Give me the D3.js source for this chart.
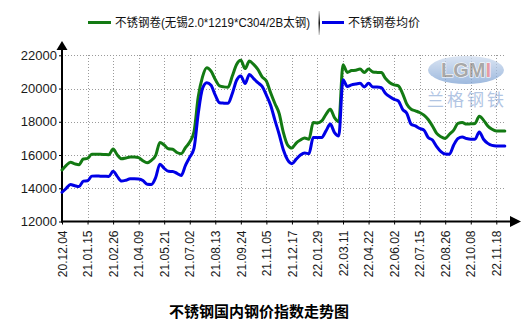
<!DOCTYPE html>
<html>
<head>
<meta charset="utf-8">
<script src="https://cdn.jsdelivr.net/npm/d3@7"></script>
<style>
  html, body { margin: 0; padding: 0; background: #fff; }
  svg { display: block; }
  text { font-family: "Liberation Sans", Arial, "Noto Sans CJK SC", sans-serif; }
  .cjk { font-family: "Noto Sans CJK SC", "Liberation Sans", sans-serif; }
</style>
</head>
<body>
<svg id="chart" width="524" height="328"></svg>
<script>
// Weekly tick labels (one label every 6 weekly observations)
const tickLabels = ["20.12.04","21.01.15","21.02.26","21.04.09","21.05.21","21.07.02",
  "21.08.13","21.09.24","21.11.05","21.12.17","22.01.29","22.03.11",
  "22.04.22","22.06.02","22.07.15","22.08.26","22.10.08","22.11.18"];
const tickStep = 6;

const yTicks = [12000, 14000, 16000, 18000, 20000, 22000];

const seriesNames = ["不锈钢卷(无锡2.0*1219*C304/2B太钢)", "不锈钢卷均价"];

// 不锈钢卷(无锡2.0*1219*C304/2B太钢), weekly, 元/吨
const wuxiPrice = [
  15100,15380,15560,15470,15420,15760,15800,16040,16040,16040,
  16030,16020,16360,16000,15770,15820,15880,15880,15840,15650,
  15530,15680,15980,16750,16600,16380,16350,16150,16080,16450,
  16780,17400,19500,20700,21250,21050,20550,20160,20100,20080,
  20750,21450,21700,21200,21650,21450,21150,20700,20450,19750,
  19100,18500,17350,16600,16420,16720,16900,17030,16950,17950,
  17930,18050,18450,18750,18250,18000,21430,20970,21080,21100,
  21170,20970,21170,21000,20970,20960,20600,20350,20220,20160,
  19700,19050,18750,18660,18560,18400,18140,17750,17300,17100,
  17000,17250,17500,17900,17950,17860,17880,17900,18340,18100,
  17750,17550,17450,17450,17450
];

// 不锈钢卷均价, weekly, 元/吨
const avgPrice = [
  13760,14000,14220,14150,14100,14430,14450,14730,14740,14730,
  14720,14710,15020,14700,14430,14480,14570,14570,14560,14470,
  14240,14230,14650,15450,15200,15020,15010,14900,14770,15380,
  15870,16400,18500,20000,20350,20200,19600,19150,19120,19110,
  19700,20500,20760,20300,20850,20600,20350,20130,19600,19000,
  18100,17250,16300,15700,15480,15750,16000,16120,16080,17050,
  17050,17060,17450,17860,17350,17150,20530,20120,20220,20270,
  20320,20100,20320,20100,20100,20050,19700,19500,19350,19250,
  18750,18500,17850,17750,17600,17500,17050,16900,16500,16200,
  16060,16050,16600,17000,17080,16990,16950,16950,17390,16950,
  16700,16580,16550,16550,16550
];

const seriesColors = ["#137a13", "#0000e6"];

const svg = d3.select("#chart");

const x0 = 62, xLastTick = 496.3, gridRight = 505, axisRight = 510;
const x = d3.scaleLinear()
  .domain([0, (tickLabels.length - 1) * tickStep])
  .range([x0, xLastTick]);
const y = d3.scaleLinear().domain([12000, 22000]).range([221.5, 55.3]);

// ---- grid ----
const grid = svg.append("g").attr("stroke", "#9a9a9a").attr("stroke-width", 1)
  .attr("stroke-dasharray", "1,2").attr("shape-rendering", "crispEdges");
grid.selectAll("line.h").data(yTicks.slice(1)).join("line")
  .attr("x1", x0).attr("x2", gridRight)
  .attr("y1", d => Math.round(y(d)) + 0.5).attr("y2", d => Math.round(y(d)) + 0.5);
const tickIdx = tickLabels.map((_, i) => i * tickStep);
grid.selectAll("line.v").data(tickIdx.slice(1)).join("line")
  .attr("x1", d => Math.round(x(d)) + 0.5).attr("x2", d => Math.round(x(d)) + 0.5)
  .attr("y1", y(22000)).attr("y2", y(12000));

// ---- y axis ----
const yAxis = svg.append("g").attr("transform", `translate(${x0},0)`)
  .call(d3.axisLeft(y).tickValues(yTicks).tickSize(3).tickPadding(2).tickFormat(d3.format("d")));
yAxis.select(".domain").remove();
yAxis.selectAll(".tick line").attr("stroke", "#000");
yAxis.selectAll(".tick text").attr("font-size", 13).attr("fill", "#1a1a1a")
  .attr("font-family", "'Liberation Sans', Arial, sans-serif");

// ---- x axis ----
const xAxis = svg.append("g").attr("transform", `translate(0,${y(12000)})`)
  .call(d3.axisBottom(x).tickValues(tickIdx).tickSize(3)
    .tickFormat((d, i) => tickLabels[i]));
xAxis.select(".domain").remove();
xAxis.selectAll(".tick line").attr("stroke", "#000");
xAxis.selectAll(".tick text")
  .attr("font-size", 12).attr("fill", "#1a1a1a")
  .attr("font-family", "'Liberation Sans', Arial, sans-serif")
  .attr("text-anchor", "end")
  .attr("transform", "rotate(-90)")
  .attr("x", -9).attr("y", 0).attr("dy", "0.35em");

// axis lines with arrow heads
svg.append("line").attr("x1", x0).attr("x2", x0).attr("y1", 49).attr("y2", y(12000) + 1)
  .attr("stroke", "#000").attr("stroke-width", 2);
svg.append("line").attr("x1", x0 - 1).attr("x2", axisRight).attr("y1", y(12000)).attr("y2", y(12000))
  .attr("stroke", "#000").attr("stroke-width", 2);
svg.append("path").attr("d", `M${x0 - 5.5},50 L${x0 + 5.5},50 L${x0},41 Z`).attr("fill", "#000");
svg.append("path").attr("d", `M${axisRight},${y(12000) - 5.5} L${axisRight},${y(12000) + 5.5} L${axisRight + 11},${y(12000)} Z`).attr("fill", "#000");

// ---- watermark ----
const wm = svg.append("g").attr("opacity", 0.75);
const defs = svg.append("defs");
const eg = defs.append("linearGradient").attr("id", "ell").attr("x1", 0).attr("y1", 0).attr("x2", 0).attr("y2", 1);
eg.append("stop").attr("offset", "0%").attr("stop-color", "#cfdcef");
eg.append("stop").attr("offset", "100%").attr("stop-color", "#7ea3d4");
wm.append("ellipse").attr("cx", 466).attr("cy", 70).attr("rx", 38).attr("ry", 14)
  .attr("fill", "url(#ell)");
const logo = wm.append("text").attr("x", 466).attr("y", 77).attr("text-anchor", "middle")
  .attr("font-size", 20).attr("font-weight", "bold")
  .attr("font-family", "'Liberation Sans', Arial, sans-serif")
  .attr("stroke", "#ffffff").attr("stroke-width", 1.2).attr("paint-order", "stroke");
logo.append("tspan").attr("fill", "#8c8c8c").text("LGM");
logo.append("tspan").attr("fill", "#e07a86").text("I");
wm.append("text").attr("class", "cjk").attr("x", 467).attr("y", 106).attr("text-anchor", "middle")
  .attr("font-size", 17).attr("letter-spacing", 3).attr("fill", "#98b2da").text("兰格钢铁");

// ---- series lines ----
const line = d3.line().x((d, i) => x(i)).y(d => y(d)).curve(d3.curveMonotoneX);
[wuxiPrice, avgPrice].forEach((data, k) => {
  svg.append("path").datum(data)
    .attr("fill", "none").attr("stroke", seriesColors[k]).attr("stroke-width", 3)
    .attr("stroke-linejoin", "round").attr("stroke-linecap", "round")
    .attr("d", line);
});

// ---- legend ----
const legend = svg.append("g");
const legendItems = [{ x1: 88, x2: 111, tx: 115, w: 195 }, { x1: 322, x2: 344, tx: 348, w: 72 }];
legendItems.forEach((it, k) => {
  legend.append("line").attr("x1", it.x1).attr("x2", it.x2).attr("y1", 22.5).attr("y2", 22.5)
    .attr("stroke", seriesColors[k]).attr("stroke-width", 3);
  legend.append("text").attr("x", it.tx).attr("y", 27)
    .attr("font-size", 12).attr("fill", "#111")
    .attr("textLength", it.w).attr("lengthAdjust", "spacingAndGlyphs")
    .text(seriesNames[k]);
});
const sg = defs.append("linearGradient").attr("id", "sep").attr("x1", 0).attr("y1", 0).attr("x2", 0).attr("y2", 1);
sg.append("stop").attr("offset", "0%").attr("stop-color", "#dddddd");
sg.append("stop").attr("offset", "50%").attr("stop-color", "#111111");
sg.append("stop").attr("offset", "100%").attr("stop-color", "#dddddd");
legend.append("rect").attr("x", 318.5).attr("y", 11).attr("width", 1.5).attr("height", 24).attr("fill", "url(#sep)");

// ---- title ----
svg.append("text").attr("class", "cjk").attr("x", 259).attr("y", 317)
  .attr("text-anchor", "middle").attr("font-size", 15).attr("font-weight", "bold")
  .attr("fill", "#000").text("不锈钢国内钢价指数走势图");
</script>
</body>
</html>
